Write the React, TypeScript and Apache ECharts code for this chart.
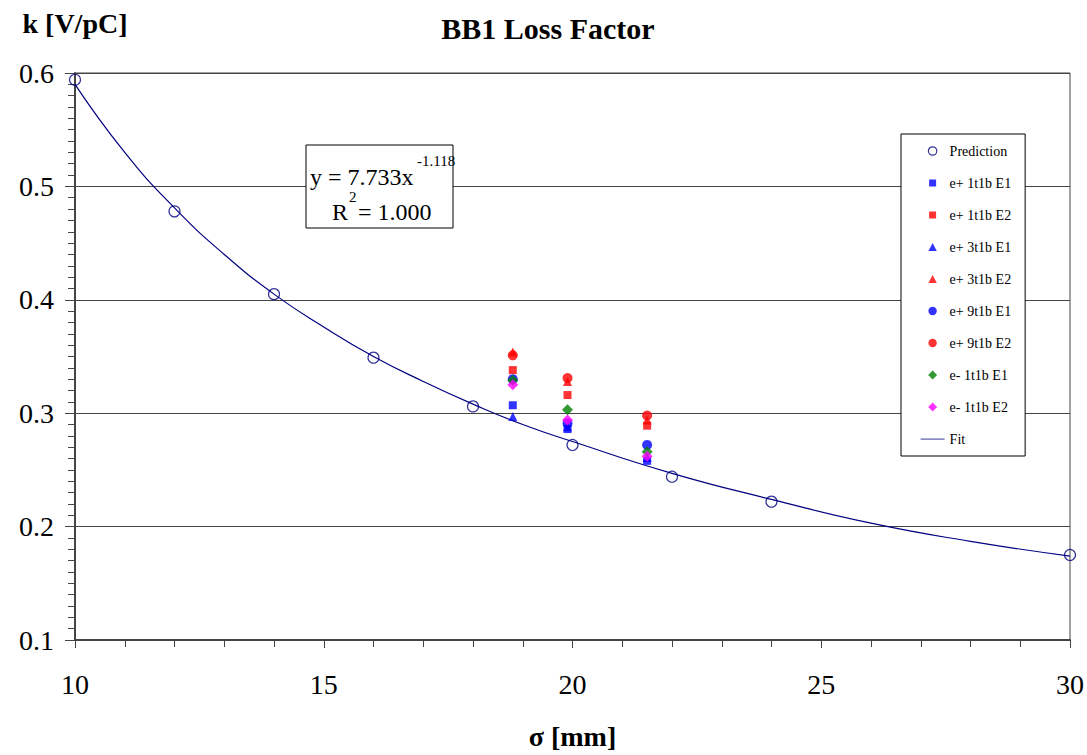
import React, { useEffect, useRef } from "react";
import * as echarts from "echarts";

const SERIF = "'Times New Roman', 'Liberation Serif', 'DejaVu Serif', serif";

const predX = [10, 12, 14, 16, 18, 20, 22, 24, 30];
const predK = [0.594, 0.478, 0.405, 0.349, 0.306, 0.272, 0.244, 0.222, 0.175];

const fitX = [10, 11, 12, 13, 14, 15, 16, 17, 18, 19, 20, 22, 24, 26, 28, 30];
const fitK = [0.59, 0.53, 0.481, 0.44, 0.405, 0.376, 0.35, 0.328, 0.308, 0.29, 0.275, 0.247, 0.224, 0.203, 0.187, 0.174];

const measX = [18.8, 19.9, 21.5];
const ep1t1bE1 = [0.307, 0.286, 0.258];
const ep1t1bE2 = [0.338, 0.316, 0.289];
const ep3t1bE1 = [0.297, 0.288, 0.261];
const ep3t1bE2 = [0.354, 0.328, 0.294];
const ep9t1bE1 = [0.33, 0.291, 0.272];
const ep9t1bE2 = [0.351, 0.331, 0.298];
const em1t1bE1 = [0.329, 0.303, 0.266];
const em1t1bE2 = [0.325, 0.294, 0.262];

const zip = (xs: number[], ys: number[]) => xs.map((x, i) => [x, ys[i]]);

// legend icons framed in a 24x9 box so they keep their aspect
const FRAME = "M0,0 M24,9 ";
const ICON_SQUARE = "path://" + FRAME + "M8.5,1 h7 v7 h-7 Z";
const ICON_TRI = "path://" + FRAME + "M12,0.5 L16.2,8.5 L7.8,8.5 Z";
const ICON_CIRCLE = "path://" + FRAME + "M16.2,4.5 A4.2,4.2 0 1 1 7.8,4.5 A4.2,4.2 0 1 1 16.2,4.5 Z";
const ICON_DIAMOND = "path://" + FRAME + "M12,0 L16.5,4.5 L12,9 L7.5,4.5 Z";
const ICON_LINE = "path://" + FRAME + "M0,4 h24 v1.2 h-24 Z";

const measured = [
  { name: "e+ 1t1b E1", data: ep1t1bE1, symbol: "rect", size: 8, color: "#0000FF", icon: ICON_SQUARE },
  { name: "e+ 1t1b E2", data: ep1t1bE2, symbol: "rect", size: 8, color: "#FF0000", icon: ICON_SQUARE },
  { name: "e+ 3t1b E1", data: ep3t1bE1, symbol: "triangle", size: 9, color: "#0000FF", icon: ICON_TRI },
  { name: "e+ 3t1b E2", data: ep3t1bE2, symbol: "triangle", size: 9, color: "#FF0000", icon: ICON_TRI },
  { name: "e+ 9t1b E1", data: ep9t1bE1, symbol: "circle", size: 10, color: "#0000FF", icon: ICON_CIRCLE },
  { name: "e+ 9t1b E2", data: ep9t1bE2, symbol: "circle", size: 10, color: "#FF0000", icon: ICON_CIRCLE },
  { name: "e- 1t1b E1", data: em1t1bE1, symbol: "diamond", size: 11, color: "#008000", icon: ICON_DIAMOND },
  { name: "e- 1t1b E2", data: em1t1bE2, symbol: "diamond", size: 11, color: "#FF00FF", icon: ICON_DIAMOND },
];

export default function App() {
  const ref = useRef<HTMLDivElement>(null);
  useEffect(() => {
    if (!ref.current) return;
    const chart = echarts.init(ref.current, undefined, { renderer: "svg" });
    const axisColor = "#444";
    const option: any = {
      animation: false,
      backgroundColor: "#fff",
      textStyle: { fontFamily: SERIF },
      title: {
        text: "BB1 Loss Factor",
        left: 543,
        textAlign: "center",
        top: 8,
        textStyle: { fontFamily: SERIF, fontSize: 30, fontWeight: "bold", color: "#000" },
      },
      grid: {
        left: 75,
        right: 17,
        top: 73,
        bottom: 112,
        show: true,
        borderColor: axisColor,
        borderWidth: 1,
        backgroundColor: "transparent",
      },
      legend: {
        orient: "vertical",
        left: 901,
        top: 134,
        padding: [10, 14, 10, 19],
        backgroundColor: "#fff",
        borderColor: "#000",
        borderWidth: 1,
        itemWidth: 24,
        itemHeight: 9,
        itemGap: 18,
        textStyle: { fontFamily: SERIF, fontSize: 14, color: "#000" },
        data: [
          { name: "Prediction", icon: ICON_CIRCLE, itemStyle: { color: "rgba(255,255,255,0)", borderColor: "#000080", borderWidth: 1.2 } },
          ...measured.map((m) => ({ name: m.name, icon: m.icon })),
          { name: "Fit", icon: ICON_LINE, itemStyle: { color: "#5a5aa8", borderWidth: 0 } },
        ],
      },
      xAxis: {
        type: "value",
        min: 10,
        max: 30,
        interval: 5,
        name: "σ [mm]",
        nameLocation: "middle",
        nameGap: 82,
        nameTextStyle: { fontFamily: SERIF, fontSize: 28, fontWeight: "bold", color: "#000" },
        axisLine: { show: true, onZero: false, lineStyle: { color: axisColor, width: 2 } },
        axisTick: { show: true, inside: false, length: 8, lineStyle: { color: axisColor, width: 1 } },
        minorTick: { show: true, splitNumber: 5, length: 7, lineStyle: { color: axisColor, width: 1 } },
        splitLine: { show: false },
        axisLabel: { fontFamily: SERIF, fontSize: 28, color: "#000", margin: 30 },
      },
      yAxis: {
        type: "value",
        min: 0.1,
        max: 0.6,
        interval: 0.1,
        name: "k [V/pC]",
        nameLocation: "end",
        nameGap: 36,
        nameTextStyle: { fontFamily: SERIF, fontSize: 28, fontWeight: "bold", color: "#000", align: "center" },
        axisLine: { show: true, onZero: false, lineStyle: { color: axisColor, width: 2 } },
        axisTick: { show: true, inside: false, length: 10, lineStyle: { color: axisColor, width: 1 } },
        minorTick: { show: true, splitNumber: 10, length: 7, lineStyle: { color: axisColor, width: 1 } },
        splitLine: { show: true, lineStyle: { color: axisColor, width: 1 } },
        axisLabel: {
          fontFamily: SERIF,
          fontSize: 28,
          color: "#000",
          margin: 21,
          formatter: (v: number) => v.toFixed(1),
        },
      },
      graphic: [
        {
          type: "rect",
          z: 100,
          shape: { x: 306, y: 145, width: 147, height: 83 },
          style: { fill: "#fff", stroke: "#000", lineWidth: 1 },
        },
        {
          type: "text",
          z: 101,
          x: 310,
          y: 177,
          style: { text: "y = 7.733x", font: "24px " + SERIF, fill: "#000", align: "left", verticalAlign: "middle" },
        },
        {
          type: "text",
          z: 101,
          x: 417,
          y: 161,
          style: { text: "-1.118", font: "15px " + SERIF, fill: "#000", align: "left", verticalAlign: "middle" },
        },
        {
          type: "text",
          z: 101,
          x: 332,
          y: 212,
          style: { text: "R", font: "24px " + SERIF, fill: "#000", align: "left", verticalAlign: "middle" },
        },
        {
          type: "text",
          z: 101,
          x: 349,
          y: 197,
          style: { text: "2", font: "15px " + SERIF, fill: "#000", align: "left", verticalAlign: "middle" },
        },
        {
          type: "text",
          z: 101,
          x: 358,
          y: 212,
          style: { text: "= 1.000", font: "24px " + SERIF, fill: "#000", align: "left", verticalAlign: "middle" },
        },
      ],
      series: [
        {
          name: "Prediction",
          type: "scatter",
          z: 3,
          symbol: "circle",
          symbolSize: 11,
          itemStyle: { color: "rgba(255,255,255,0)", borderColor: "#000080", borderWidth: 1.2 },
          data: zip(predX, predK),
        },
        ...measured.map((m) => ({
          name: m.name,
          type: "scatter",
          z: 4,
          symbol: m.symbol,
          symbolSize: m.size,
          itemStyle: { color: m.color },
          data: zip(measX, m.data),
        })),
        {
          name: "Fit",
          type: "line",
          z: 2,
          smooth: true,
          symbol: "none",
          showSymbol: false,
          lineStyle: { color: "#000080", width: 1.2 },
          itemStyle: { color: "#000080" },
          data: zip(fitX, fitK),
        },
      ],
    };
    chart.setOption(option);
    return () => chart.dispose();
  }, []);
  return (
    <div
      ref={ref}
      style={{ position: "fixed", left: 0, top: 0, width: 1087, height: 755, background: "#fff" }}
    />
  );
}
